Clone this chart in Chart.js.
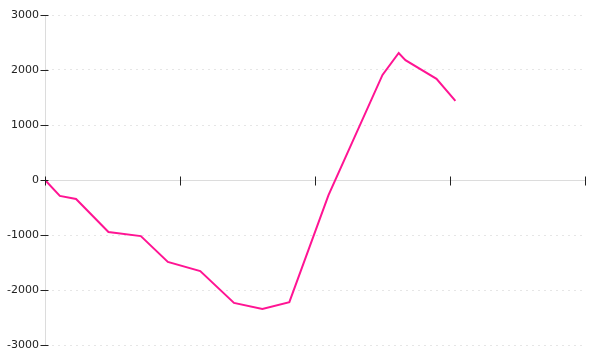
<!DOCTYPE html>
<html>
<head>
<meta charset="utf-8">
<script src="https://cdn.jsdelivr.net/npm/chart.js@4"></script>
<style>
  html, body { margin: 0; padding: 0; background: #fff; }
  #wrap { width: 600px; height: 360px; }
</style>
</head>
<body>
<div id="wrap"><canvas id="chart"></canvas></div>
<script>
// values
var xValues = [0, 11, 23, 47, 71, 91, 115, 140, 161, 181, 210, 250, 262, 267, 290, 304];
var yValues = [0, -290, -345, -945, -1020, -1490, -1655, -2235, -2345, -2220, -275, 1910, 2310, 2180, 1840, 1440];
var xTicks = [0, 100, 200, 300, 400];
var yTicks = [-3000, -2000, -1000, 0, 1000, 2000, 3000];

var points = xValues.map(function (x, i) { return { x: x, y: yValues[i] }; });

// tick marks that cross the axis lines
var crossTicks = {
    id: 'crossTicks',
    afterDraw: function (chart) {
        var ctx = chart.ctx;
        var xs = chart.scales.x, ys = chart.scales.y;
        var y0 = Math.round(ys.getPixelForValue(0)) + 0.5;
        var left = Math.round(chart.chartArea.left) + 0.5;
        ctx.save();
        ctx.strokeStyle = '#222';
        ctx.lineWidth = 1;
        ctx.beginPath();
        xTicks.forEach(function (v) {
            var px = Math.round(xs.getPixelForValue(v)) + 0.5;
            ctx.moveTo(px, y0 - 4);
            ctx.lineTo(px, y0 + 5);
        });
        yTicks.forEach(function (v) {
            var py = Math.round(ys.getPixelForValue(v)) + 0.5;
            ctx.moveTo(left - 5, py);
            ctx.lineTo(left + 3, py);
        });
        ctx.stroke();
        ctx.restore();
    }
};

var ctx = document.getElementById('chart').getContext('2d');
var chart = new Chart(ctx, {
    type: 'line',
    data: {
        datasets: [{
            data: points,
            borderColor: '#ff1493',
            borderWidth: 2,
            pointRadius: 0,
            tension: 0,
            fill: false
        }]
    },
    options: {
        responsive: true,
        maintainAspectRatio: false,
        animation: false,
        layout: { padding: { top: 15, right: 15, bottom: 15, left: 0 } },
        plugins: {
            legend: { display: false },
            tooltip: { enabled: false }
        },
        scales: {
            x: {
                type: 'linear',
                position: { y: 0 },
                min: 0,
                max: 400,
                ticks: { display: false, stepSize: 100 },
                grid: { drawOnChartArea: false, drawTicks: false },
                border: { color: '#dcdcdc', width: 1 }
            },
            y: {
                min: -3000,
                max: 3000,
                afterFit: function (scale) { scale.width = 45; },
                ticks: {
                    stepSize: 1000,
                    padding: 6,
                    color: '#222',
                    font: { family: 'DejaVu Sans', size: 11 },
                    callback: function (v) { return String(v); }
                },
                grid: { color: '#e6e6e6', drawTicks: false },
                border: { color: '#dcdcdc', width: 1, dash: [2, 4] }
            }
        }
    },
    plugins: [crossTicks]
});
</script>
</body>
</html>
